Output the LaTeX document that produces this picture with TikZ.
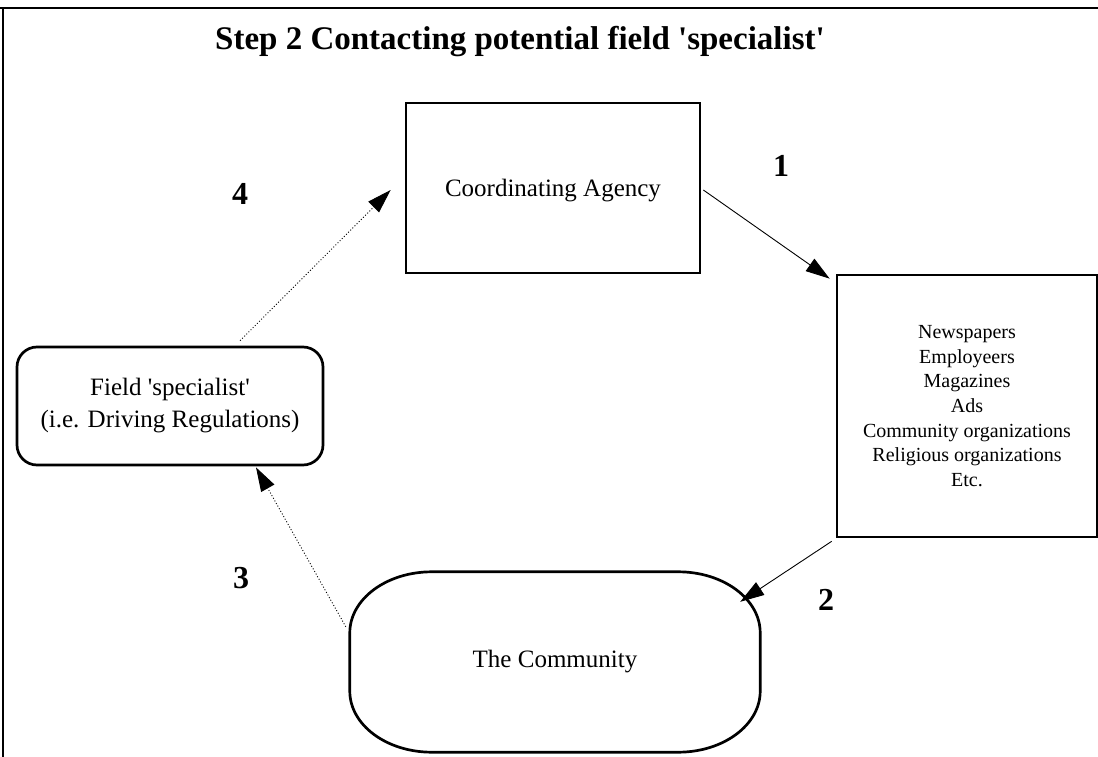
\documentclass[tikz,border=0pt]{standalone}
\usepackage{fontspec}
\setmainfont{Liberation Serif}
\usetikzlibrary{arrows.meta,calc}
\newcommand{\sq}{\textquotesingle}
\begin{document}
\begin{tikzpicture}[x=1pt,y=-1pt,
  box/.style={draw,line width=2.7pt,inner sep=0pt,align=center},
  txt/.style={font=\fontsize{25}{32}\selectfont},
  lbl/.style={font=\fontsize{32}{36}\selectfont\bfseries},
  flow/.style={line width=0.9pt,-{Triangle[length=24pt,width=15pt]}},
  back/.style={flow,dash pattern=on 1pt off 2pt}]
\useasboundingbox (0,0) rectangle (1098,757);

% page frame
\draw[line width=1.2pt] (0,8) -- (1098,8);
\draw[line width=1.2pt] (3,8) -- (3,757);

% title
\node[font=\fontsize{33}{40}\selectfont\bfseries] (title) at (520,42)
  {Step 2 Contacting potential field \sq specialist\sq};

% boxes
\node[box,txt,minimum width=294pt,minimum height=170pt,text depth=-6pt] (agency) at (553,188)
  {Coordinating Agency};
\node[box,minimum width=260pt,minimum height=262pt,
  font=\fontsize{20}{24.7}\selectfont] (media) at (967,406)
  {Newspapers\\Employeers\\Magazines\\Ads\\Community organizations\\Religious organizations\\Etc.};
\node[box,txt,rounded corners=20pt,minimum width=306pt,minimum height=118pt] (field) at (170,406)
  {Field \sq specialist\sq\\(i.e. Driving Regulations)};
\node[txt,minimum width=410pt,minimum height=180pt] (comm) at (555,662) {The Community};

% community outline: rectangle with elliptical corners
\draw[line width=2.7pt]
  ($(comm.north west)+(0,61)$) -- ($(comm.south west)+(0,-61)$)
  .. controls ($(comm.south west)+(0,-27.3)$) and ($(comm.south west)+(36.7,0)$) .. ($(comm.south west)+(82,0)$)
  -- ($(comm.south east)+(-82,0)$)
  .. controls ($(comm.south east)+(-36.7,0)$) and ($(comm.south east)+(0,-27.3)$) .. ($(comm.south east)+(0,-61)$)
  -- ($(comm.north east)+(0,61)$)
  .. controls ($(comm.north east)+(0,27.3)$) and ($(comm.north east)+(-36.7,0)$) .. ($(comm.north east)+(-82,0)$)
  -- ($(comm.north west)+(82,0)$)
  .. controls ($(comm.north west)+(36.7,0)$) and ($(comm.north west)+(0,27.3)$) .. ($(comm.north west)+(0,61)$)
  -- cycle;

% connectors
\draw[flow] ($(agency.east)+(2,2)$) -- ($(media.north west)+(-6,5)$);
\draw[flow] ($(media.south west)+(-4,3)$) -- ($(comm.north east)+(-20,30)$);
\draw[back] ($(comm.north west)+(-4,55)$) -- ($(field.south)+(86,1)$);
\draw[back] ($(field.north)+(70,-5)$) -- ($(agency.west)+(-14,2)$);

% step numbers
\node[lbl] (n1) at (781,166) {1};
\node[lbl] (n2) at (826,600) {2};
\node[lbl] (n3) at (241,578) {3};
\node[lbl] (n4) at (240,194) {4};
\end{tikzpicture}
\end{document}
